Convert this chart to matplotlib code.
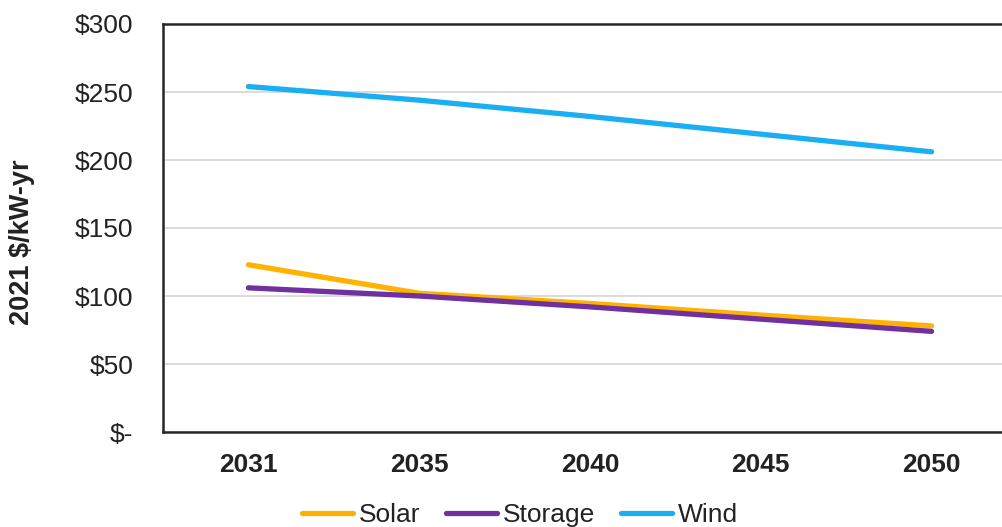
import matplotlib
matplotlib.use("Agg")
import matplotlib.pyplot as plt
from matplotlib.ticker import FuncFormatter

years = ["2031", "2035", "2040", "2045", "2050"]
solar = [123, 102, 94.5, 86, 78]
storage = [106, 100, 92, 83, 74]
wind = [254, 244, 232, 219, 206]
yticks = [0, 50, 100, 150, 200, 250, 300]

plt.rcParams['font.family'] = ['Liberation Sans', 'DejaVu Sans']

fig = plt.figure(figsize=(10.03, 5.27), dpi=100)
ax = fig.add_axes([163/1003, 1 - 432/527, (1017-163)/1003, (432-24)/527])

x = list(range(len(years)))
lw = 3.8
ax.plot(x, solar, color='#FFB300', lw=lw, solid_capstyle='round', label='Solar')
ax.plot(x, storage, color='#7030A0', lw=lw, solid_capstyle='round', label='Storage')
ax.plot(x, wind, color='#1AAFF0', lw=lw, solid_capstyle='round', label='Wind')

ax.set_xlim(-0.5, len(years) - 0.5)
ax.set_ylim(0, 300)
ax.set_yticks(yticks)
ax.yaxis.set_major_formatter(FuncFormatter(lambda v, p: '$-' if v == 0 else f'${int(v)}'))
ax.set_xticks(x)
ax.set_xticklabels(years, fontweight='bold')
ax.tick_params(axis='y', length=0, pad=21.5, labelsize=19, colors='#222222')
ax.tick_params(axis='x', length=0, pad=15, labelsize=19, colors='#222222')
for lbl in ax.get_xticklabels():
    lbl.set_fontweight('bold')

ax.grid(axis='y', color='#D9D9D9', lw=1.3)
ax.set_axisbelow(True)
for s in ['left', 'top', 'bottom']:
    ax.spines[s].set_color('#262626')
    ax.spines[s].set_linewidth(1.8)
ax.spines['right'].set_visible(False)

fig.text(22/1003, 1 - 242/527, '2021 $/kW-yr', rotation=90, ha='center', va='center',
         fontsize=19.5, fontweight='bold', color='#222222')

leg = fig.legend(loc='center', bbox_to_anchor=(520/1003, 1 - 515/527), ncol=3, frameon=False,
                 fontsize=19, handlelength=1.93, handletextpad=0.2, columnspacing=1.0,
                 labelcolor='#222222')

fig.savefig('out.png', dpi=100)
